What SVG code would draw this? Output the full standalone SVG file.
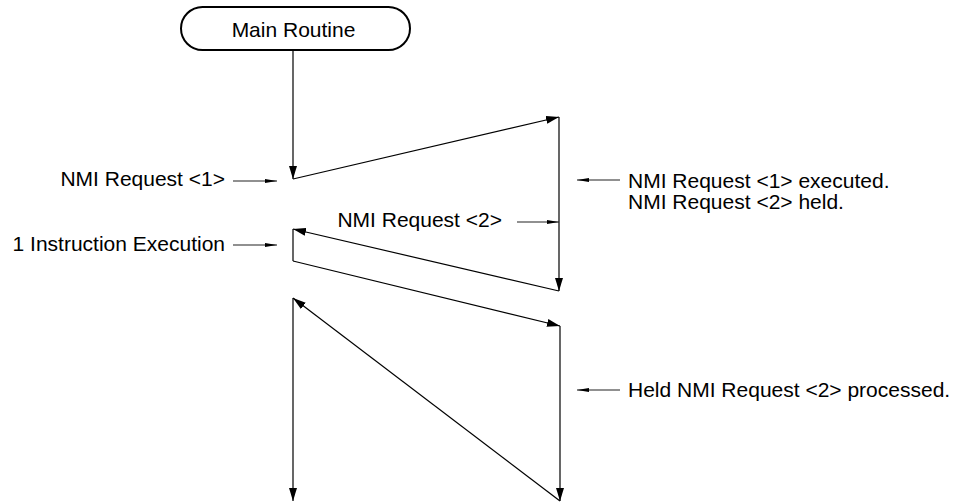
<svg xmlns="http://www.w3.org/2000/svg" width="961" height="502" viewBox="0 0 961 502">
<defs>
<style>
.t{font-family:"Liberation Sans",Arial,sans-serif;font-size:21px;fill:#000}
.ln{stroke:#000;stroke-width:1.2;fill:none}
.la{stroke:#222;stroke-width:1.2;fill:none}
</style>
<marker id="ah" markerWidth="13" markerHeight="8" refX="13" refY="4" orient="auto" markerUnits="userSpaceOnUse">
<path d="M0,0 L13,4 L0,8 Z" fill="#000"/>
</marker>
<marker id="sa" markerWidth="12" markerHeight="6" refX="12" refY="3" orient="auto" markerUnits="userSpaceOnUse">
<path d="M0,1 L12,3 L0,5 Z" fill="#000"/>
</marker>
</defs>
<rect width="961" height="502" fill="#fff"/>
<g id="main-routine">
<rect x="181" y="7" width="229" height="43" rx="21.5" ry="21.5" fill="#fff" stroke="#000" stroke-width="2"/>
<text class="t" x="293.5" y="37" text-anchor="middle">Main Routine</text>
</g>
<g id="label-nmi1">
<text class="t" x="225" y="186" text-anchor="end">NMI Request &lt;1&gt;</text>
</g>
<g id="label-instr">
<text class="t" x="225" y="251" text-anchor="end">1 Instruction Execution</text>
</g>
<g id="label-nmi2">
<text class="t" x="502" y="227" text-anchor="end">NMI Request &lt;2&gt;</text>
</g>
<g id="label-executed">
<text class="t" x="628" y="188">NMI Request &lt;1&gt; executed.</text>
<text class="t" x="628" y="209">NMI Request &lt;2&gt; held.</text>
</g>
<g id="label-processed">
<text class="t" x="628" y="397">Held NMI Request &lt;2&gt; processed.</text>
</g>
<g id="connectors">
<line class="ln" x1="293" y1="50" x2="293" y2="179" marker-end="url(#ah)"/>
<line class="ln" x1="293" y1="179" x2="559" y2="117" marker-end="url(#ah)"/>
<line class="ln" x1="559" y1="117" x2="559" y2="291" marker-end="url(#ah)"/>
<line class="ln" x1="559" y1="291" x2="293" y2="229" marker-end="url(#ah)"/>
<line class="ln" x1="293" y1="229" x2="293" y2="261"/>
<line class="ln" x1="293" y1="261" x2="560" y2="326" marker-end="url(#ah)"/>
<line class="ln" x1="560" y1="326" x2="560" y2="501" marker-end="url(#ah)"/>
<line class="ln" x1="560" y1="501" x2="293" y2="298" marker-end="url(#ah)"/>
<line class="ln" x1="293" y1="298" x2="293" y2="501" marker-end="url(#ah)"/>
<line class="la" x1="233" y1="181" x2="277" y2="181" marker-end="url(#sa)"/>
<line class="la" x1="233" y1="245" x2="277" y2="245" marker-end="url(#sa)"/>
<line class="la" x1="517" y1="222" x2="559" y2="222" marker-end="url(#sa)"/>
<line class="la" x1="620" y1="180" x2="577" y2="180" marker-end="url(#sa)"/>
<line class="la" x1="620" y1="390" x2="577" y2="390" marker-end="url(#sa)"/>
</g>
</svg>
